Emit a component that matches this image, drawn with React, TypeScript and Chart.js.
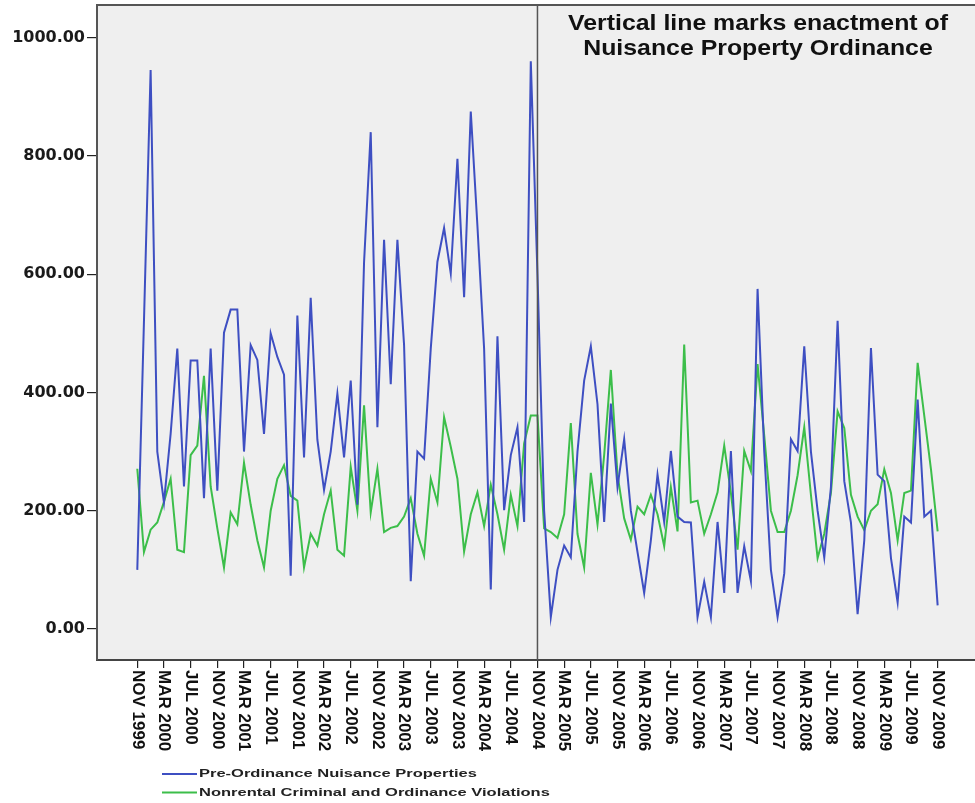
import React, { useEffect, useRef } from "react";
import { Chart, registerables } from "chart.js";

Chart.register(...registerables);

// ---- data ----
const TICK_LABELS = [
  "NOV 1999", "MAR 2000", "JUL 2000", "NOV 2000", "MAR 2001", "JUL 2001",
  "NOV 2001", "MAR 2002", "JUL 2002", "NOV 2002", "MAR 2003", "JUL 2003",
  "NOV 2003", "MAR 2004", "JUL 2004", "NOV 2004", "MAR 2005", "JUL 2005",
  "NOV 2005", "MAR 2006", "JUL 2006", "NOV 2006", "MAR 2007", "JUL 2007",
  "NOV 2007", "MAR 2008", "JUL 2008", "NOV 2008", "MAR 2009", "JUL 2009",
  "NOV 2009",
];
const MONTHS_PER_TICK = 4;
const Y_TICKS = [0, 200, 400, 600, 800, 1000];
const SERIES_NAMES = [
  "Pre-Ordinance Nuisance Properties",
  "Nonrental Criminal and Ordinance Violations",
];
const TITLE_LINES = ["Vertical line marks enactment of", "Nuisance Property Ordinance"];
const ENACTMENT_MONTH = 60; // NOV 2004, months after NOV 1999

// monthly values, NOV 1999 .. NOV 2009
const PRE_ORDINANCE = [
  100, 520, 945, 300, 214, 330, 474, 241, 454, 454,
  221, 474, 234, 501, 540, 540, 300, 480, 455, 330,
  500, 460, 430, 90, 530, 290, 560, 320, 235, 300,
  398, 290, 420, 210, 620, 840, 341, 658, 414, 658,
  480, 81, 300, 288, 474, 621, 678, 601, 795, 561,
  875, 681, 474, 67, 495, 201, 294, 341, 181, 960,
  600, 200, 20, 100, 141, 121, 300, 420, 478, 380,
  181, 381, 240, 321, 200, 130, 61, 150, 261, 181,
  301, 190, 181, 180, 20, 80, 20, 181, 61, 301,
  61, 140, 81, 575, 300, 100, 20, 94, 321, 301,
  478, 300, 200, 121, 240, 521, 250, 180, 25, 150,
  475, 261, 250, 120, 45, 190, 180, 388, 190, 200,
  40,
];
const NONRENTAL = [
  271, 130, 168, 180, 215, 254, 134, 130, 294, 310,
  428, 241, 170, 104, 197, 177, 281, 210, 150, 104,
  200, 254, 277, 225, 217, 104, 161, 141, 194, 234,
  134, 124, 274, 200, 378, 197, 271, 164, 171, 174,
  190, 221, 161, 124, 254, 214, 358, 308, 254, 131,
  194, 231, 174, 244, 194, 134, 227, 174, 314, 361,
  361, 170, 164, 154, 194, 348, 161, 104, 264, 177,
  294, 438, 261, 187, 151, 207, 194, 227, 194, 140,
  240, 165, 481, 214, 217, 161, 194, 231, 310, 230,
  134, 301, 267, 448, 327, 200, 164, 164, 200, 260,
  341, 227, 120, 161, 230, 368, 340, 227, 190, 167,
  200, 211, 270, 230, 150, 230, 234, 450, 360, 270,
  165,
];

const BLUE = "#3e4fc2";
const GREEN = "#3cbe4a";
const PLOT_BG = "#efefef";

const decorPlugin = {
  id: "decor",
  beforeDraw(chart: any) {
    const { ctx, chartArea: a } = chart;
    ctx.save();
    ctx.fillStyle = PLOT_BG;
    ctx.fillRect(a.left, a.top, a.right - a.left, a.bottom - a.top);
    ctx.strokeStyle = "#555";
    ctx.lineWidth = 2;
    ctx.beginPath();
    ctx.moveTo(a.left, a.top);
    ctx.lineTo(a.right, a.top);
    ctx.stroke();
    ctx.restore();
  },
  afterDatasetsDraw(chart: any) {
    const { ctx, chartArea: a, scales } = chart;
    const x = scales.x.getPixelForValue(ENACTMENT_MONTH);
    ctx.save();
    ctx.strokeStyle = "#555";
    ctx.lineWidth = 1.5;
    ctx.beginPath();
    ctx.moveTo(x, a.top);
    ctx.lineTo(x, a.bottom);
    ctx.stroke();
    ctx.restore();
  },
  afterDraw(chart: any) {
    const { ctx, chartArea: a, scales } = chart;
    ctx.save();
    // rotated x tick labels (reading top to bottom)
    ctx.fillStyle = "#111";
    ctx.font = 'bold 17px "Liberation Sans", Arial, sans-serif';
    ctx.textAlign = "left";
    ctx.textBaseline = "middle";
    TICK_LABELS.forEach((lab, k) => {
      const x = scales.x.getPixelForValue(k * MONTHS_PER_TICK);
      ctx.save();
      ctx.translate(x, a.bottom + 10);
      ctx.rotate(Math.PI / 2);
      ctx.fillText(lab, 0, 0);
      ctx.restore();
    });
    // annotation title
    ctx.fillStyle = "#111";
    ctx.font = 'bold 22px "Liberation Sans", Arial, sans-serif';
    ctx.textAlign = "center";
    ctx.textBaseline = "alphabetic";
    TITLE_LINES.forEach((t, i) => {
      ctx.save();
      ctx.translate(758, 30 + i * 25);
      ctx.scale(1.13, 1);
      ctx.fillText(t, 0, 0);
      ctx.restore();
    });
    // legend
    const colors = [BLUE, GREEN];
    ctx.font = 'bold 11px "Liberation Sans", Arial, sans-serif';
    ctx.textAlign = "left";
    ctx.textBaseline = "middle";
    SERIES_NAMES.forEach((name, i) => {
      const y = 774 + i * 18.5;
      ctx.strokeStyle = colors[i];
      ctx.lineWidth = 2;
      ctx.beginPath();
      ctx.moveTo(162, y);
      ctx.lineTo(197, y);
      ctx.stroke();
      ctx.save();
      ctx.translate(199, y);
      ctx.scale(1.5, 1);
      ctx.fillStyle = "#222";
      ctx.fillText(name, 0, 0);
      ctx.restore();
    });
    ctx.restore();
  },
};

export default function App() {
  const ref = useRef<HTMLCanvasElement | null>(null);
  useEffect(() => {
    if (!ref.current) return;
    const chart = new Chart(ref.current, {
      type: "line",
      data: {
        datasets: [
          {
            label: SERIES_NAMES[0],
            data: PRE_ORDINANCE.map((v, i) => ({ x: i, y: v })),
            borderColor: BLUE,
            backgroundColor: BLUE,
            borderWidth: 2,
            pointRadius: 0,
            tension: 0,
          },
          {
            label: SERIES_NAMES[1],
            data: NONRENTAL.map((v, i) => ({ x: i, y: v })),
            borderColor: GREEN,
            backgroundColor: GREEN,
            borderWidth: 2,
            pointRadius: 0,
            tension: 0,
          },
        ],
      },
      options: {
        animation: false,
        responsive: true,
        maintainAspectRatio: false,
        layout: { padding: { top: 5, right: 0, left: 0, bottom: 0 } },
        plugins: {
          legend: { display: false },
          tooltip: { enabled: false },
          title: { display: false },
        },
        scales: {
          x: {
            type: "linear",
            min: -6.04,
            max: 125.6,
            afterBuildTicks: (s: any) => {
              s.ticks = TICK_LABELS.map((_, k) => ({ value: k * MONTHS_PER_TICK }));
            },
            afterFit: (s: any) => {
              s.height = 143;
              s.paddingLeft = 0;
              s.paddingRight = 0;
            },
            ticks: { display: false },
            grid: {
              drawOnChartArea: false,
              drawTicks: true,
              tickLength: 8,
              color: "#222",
              lineWidth: 1.2,
            },
            border: { display: true, color: "#444", width: 2 },
          },
          y: {
            type: "linear",
            min: -52.4,
            max: 1055,
            afterBuildTicks: (s: any) => {
              s.ticks = Y_TICKS.map((v) => ({ value: v }));
            },
            afterFit: (s: any) => {
              s.width = 97;
              s.paddingTop = 0;
              s.paddingBottom = 0;
            },
            ticks: {
              padding: 2,
              color: "#1a1a1a",
              font: { family: '"DejaVu Sans", sans-serif', weight: "bold", size: 16 },
              callback: (v: any) => Number(v).toFixed(2),
            },
            grid: {
              drawOnChartArea: false,
              drawTicks: true,
              tickLength: 10,
              color: "#222",
              lineWidth: 1.2,
            },
            border: { display: true, color: "#555", width: 2 },
          },
        },
      },
      plugins: [decorPlugin],
    });
    return () => chart.destroy();
  }, []);
  return (
    <div style={{ position: "fixed", left: 0, top: 0, width: 975, height: 803, background: "#fff" }}>
      <canvas ref={ref} />
    </div>
  );
}
